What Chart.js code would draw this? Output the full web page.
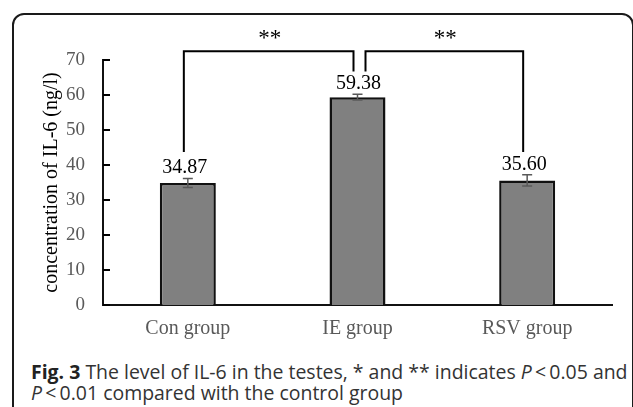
<!DOCTYPE html>
<html>
<head>
<meta charset="utf-8">
<script src="https://cdn.jsdelivr.net/npm/chart.js@4"></script>
<style>
  html, body { margin: 0; padding: 0; background: #fff; }
  body { width: 633px; height: 407px; position: relative; overflow: hidden; }
  #frame { position: absolute; left: 12px; top: 13px; width: 622px; height: 420px; border: 2px solid #1a1a1a; border-radius: 12px; box-sizing: border-box; }
  #wrap { position: absolute; left: 0; top: 0; width: 633px; height: 345px; }
  #caption { position: absolute; left: 31px; top: 361px; font-family: "Open Sans", sans-serif; font-size: 19px; line-height: 21px; color: #333; white-space: nowrap; }
  #caption b { color: #222; }
</style>
</head>
<body>
<div id="frame"></div>
<div id="wrap"><canvas id="chart"></canvas></div>
<div id="caption"><span id="line1"><b>Fig. 3</b> The level of IL-6 in the testes, * and ** indicates <i>P</i>&#8201;&lt;&#8201;0.05 and</span><br><i>P</i>&#8201;&lt;&#8201;0.01 compared with the control group</div>
<script>
const groups = ['Con group', 'IE group', 'RSV group'];
const means = [34.87, 59.38, 35.60];
const errors = [1.3, 0.8, 1.6];
const valueLabels = ['34.87', '59.38', '35.60'];
const yMin = 0, yMax = 70, yStep = 10;
// significance brackets: [from group, to group, mark]
const comparisons = [[0, 1, '**'], [2, 1, '**']];
const bracketTop = 72.5;
const bracketInnerEnd = 66.7;
const bracketOuterEnd = 43.7;

const serif = '"Liberation Serif", "Times New Roman", serif';

// stretch the caption's first line to the width it has in the figure
const cap = document.getElementById('caption');
const w = document.getElementById('line1').getBoundingClientRect().width;
cap.style.fontSize = (19 * 597 / w).toFixed(2) + 'px';

const extras = {
    id: 'extras',
    afterDatasetsDraw(chart) {
        const ctx = chart.ctx;
        const x = chart.scales.x, y = chart.scales.y;
        ctx.save();

        // error bars
        ctx.strokeStyle = '#595959';
        ctx.lineWidth = 1.5;
        means.forEach((m, i) => {
            const cx = x.getPixelForValue(i);
            const top = y.getPixelForValue(m + errors[i]);
            const bot = y.getPixelForValue(m - errors[i]);
            ctx.beginPath();
            ctx.moveTo(cx, top); ctx.lineTo(cx, bot);
            ctx.moveTo(cx - 5, top); ctx.lineTo(cx + 5, top);
            ctx.moveTo(cx - 5, bot); ctx.lineTo(cx + 5, bot);
            ctx.stroke();
        });

        // value labels
        ctx.fillStyle = '#000';
        ctx.font = '20px ' + serif;
        ctx.textAlign = 'center';
        ctx.textBaseline = 'alphabetic';
        means.forEach((m, i) => {
            const cx = x.getPixelForValue(i) - (i === 1 ? -1 : 3);
            ctx.fillText(valueLabels[i], cx, y.getPixelForValue(m + errors[i]) - 5);
        });

        // brackets and stars
        ctx.strokeStyle = '#000';
        ctx.lineWidth = 2;
        const yt = y.getPixelForValue(bracketTop);
        comparisons.forEach(([a, b, mark]) => {
            const side = a < b ? -1 : 1;
            const xo = x.getPixelForValue(a) - 4;
            const xi = x.getPixelForValue(b) + (side < 0 ? -4 : 8);
            ctx.beginPath();
            ctx.moveTo(xo, y.getPixelForValue(bracketOuterEnd));
            ctx.lineTo(xo, yt);
            ctx.lineTo(xi, yt);
            ctx.lineTo(xi, y.getPixelForValue(bracketInnerEnd));
            ctx.stroke();
            ctx.font = '23px ' + serif;
            ctx.fillText(mark, (xo + xi) / 2 + 1, yt - 6);
        });

        // inward tick marks on the y axis
        ctx.lineWidth = 2;
        y.ticks.forEach(t => {
            const py = y.getPixelForValue(t.value);
            ctx.beginPath();
            ctx.moveTo(x.left, py);
            ctx.lineTo(x.left + 7, py);
            ctx.stroke();
        });
        ctx.restore();
    }
};

new Chart(document.getElementById('chart'), {
    type: 'bar',
    data: {
        labels: groups,
        datasets: [{
            data: means,
            backgroundColor: '#808080',
            borderColor: '#111',
            borderWidth: 2.5,
            categoryPercentage: 1,
            barPercentage: 0.33
        }]
    },
    options: {
        responsive: true,
        maintainAspectRatio: false,
        animation: false,
        layout: { padding: { left: 40, top: 60, right: 21, bottom: 0 } },
        plugins: {
            legend: { display: false },
            tooltip: { enabled: false }
        },
        scales: {
            x: {
                grid: { display: false },
                border: { display: true, color: '#111', width: 2 },
                ticks: { color: '#595959', font: { family: serif, size: 20 }, padding: 4 }
            },
            y: {
                min: yMin,
                max: yMax,
                grid: { display: false },
                border: { display: true, color: '#111', width: 2 },
                ticks: { stepSize: yStep, color: '#595959', font: { family: serif, size: 19 }, padding: 10 },
                title: {
                    display: true,
                    text: 'concentration of IL-6 (ng/l)',
                    color: '#000',
                    font: { family: serif, size: 20 },
                    padding: 0
                },
                afterFit(scale) { scale.width = 63; }
            }
        }
    },
    plugins: [extras]
});
</script>
</body>
</html>
